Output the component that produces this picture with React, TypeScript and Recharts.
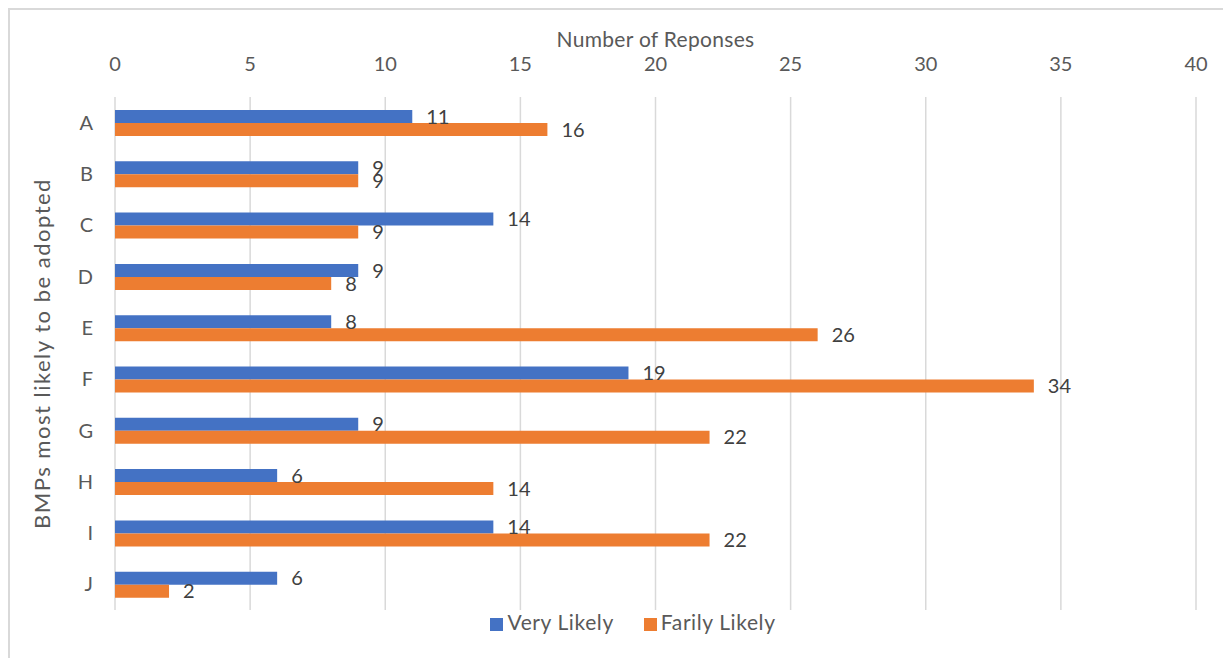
import { BarChart, Bar, XAxis, YAxis, CartesianGrid, Legend, LabelList, Label } from "recharts";

const categories = ["A", "B", "C", "D", "E", "F", "G", "H", "I", "J"];
const veryLikely = [11, 9, 14, 9, 8, 19, 9, 6, 14, 6];
const farilyLikely = [16, 9, 9, 8, 26, 34, 22, 14, 22, 2];
const xTicks = [0, 5, 10, 15, 20, 25, 30, 35, 40];

const FONT = "Lato, 'Open Sans', sans-serif";
const legendOrder = ["Very Likely", "Farily Likely"];

export default function App() {
    const data = categories.map((c, i) => ({
        name: c,
        very: veryLikely[i],
        farily: farilyLikely[i],
    }));

    return (
        <div style={{ width: 1223, height: 650, overflow: "hidden", fontFamily: FONT }}>
            <div style={{ width: 1240, height: 670, border: "2px solid #d9d9d9", boxSizing: "border-box", position: "relative" }}>
                <BarChart
                    width={1223}
                    height={650}
                    data={data}
                    layout="vertical"
                    margin={{ top: 47, right: 35, bottom: 23, left: 0 }}
                    barSize={13}
                    barGap={0}
                    style={{ position: "absolute", left: -2, top: -2 }}
                >
                    <CartesianGrid horizontal={false} stroke="#d9d9d9" strokeWidth={1.5} />
                    <XAxis
                        type="number"
                        orientation="top"
                        domain={[0, 40]}
                        ticks={xTicks}
                        height={42}
                        axisLine={false}
                        tickLine={false}
                        tickSize={0}
                        tickMargin={26}
                        tick={{ fontSize: 20, fill: "#595959", fontFamily: FONT }}
                    >
                        <Label
                            value="Number of Reponses"
                            position="insideTop"
                            offset={-23}
                            style={{ fontSize: 21, fill: "#595959", fontFamily: FONT, letterSpacing: 0.3 }}
                        />
                    </XAxis>
                    <YAxis
                        type="category"
                        dataKey="name"
                        width={107}
                        axisLine={false}
                        tickLine={false}
                        tickSize={0}
                        tickMargin={22}
                        tick={{ fontSize: 20, fill: "#595959", fontFamily: FONT }}
                    >
                        <Label
                            value="BMPs most likely to be adopted"
                            angle={-90}
                            position="insideLeft"
                            offset={34}
                            style={{ textAnchor: "middle", fontSize: 22, fill: "#595959", fontFamily: FONT, letterSpacing: 1.5 }}
                        />
                    </YAxis>
                    <Legend
                        verticalAlign="bottom"
                        align="center"
                        iconType="square"
                        iconSize={13}
                        itemSorter={(item: any) => legendOrder.indexOf(item.value)}
                        wrapperStyle={{ fontSize: 21, fontFamily: FONT, paddingLeft: 46, bottom: 24 }}
                        formatter={(v) => <span style={{ color: "#595959", marginRight: 20, letterSpacing: 0.6 }}>{v}</span>}
                    />
                    <Bar dataKey="very" name="Very Likely" fill="#4472C4" isAnimationActive={false}>
                        <LabelList dataKey="very" position="right" offset={14} style={{ fontSize: 20, fill: "#404040", fontFamily: FONT }} />
                    </Bar>
                    <Bar dataKey="farily" name="Farily Likely" fill="#ED7D31" isAnimationActive={false}>
                        <LabelList dataKey="farily" position="right" offset={14} style={{ fontSize: 20, fill: "#404040", fontFamily: FONT }} />
                    </Bar>
                </BarChart>
            </div>
        </div>
    );
}
